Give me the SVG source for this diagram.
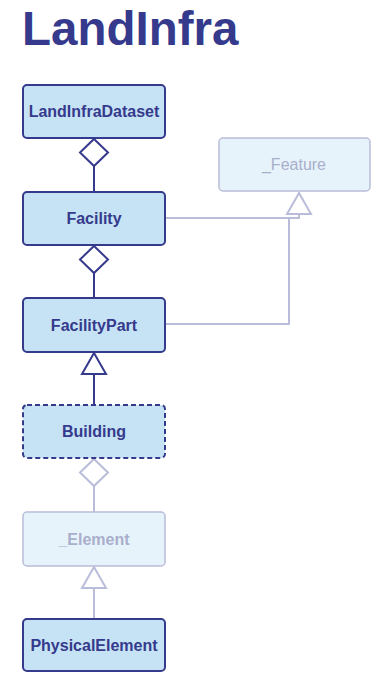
<svg xmlns="http://www.w3.org/2000/svg" width="375" height="673" viewBox="0 0 375 673">
<style>
.box{fill:#c6e3f5;stroke:#353a8c;stroke-width:2}
.lbox{fill:#e7f3fb;stroke:#b9bdd9;stroke-width:1.5}
.t{font-family:"Liberation Sans",Arial,sans-serif;font-weight:bold;font-size:16px;fill:#353a8c;text-anchor:middle}
.lt{font-family:"Liberation Sans",Arial,sans-serif;font-size:16px;fill:#a9aecb;text-anchor:middle}
.lbt{font-family:"Liberation Sans",Arial,sans-serif;font-weight:bold;font-size:16px;fill:#a9aecb;text-anchor:middle}
.dl{fill:none;stroke:#353a8c;stroke-width:2}
.ll{fill:none;stroke:#b9bdd9;stroke-width:2}
.dh{fill:#ffffff;stroke:#353a8c;stroke-width:2}
.lh{fill:#ffffff;stroke:#b9bdd9;stroke-width:2}
</style>
<rect width="375" height="673" fill="#ffffff"/>
<text x="22" y="45" font-family="Liberation Sans,Arial,sans-serif" font-weight="bold" font-size="47.5" fill="#353a8c">LandInfra</text>
<g id="connectors">
<line class="dl" x1="94" y1="166" x2="94" y2="192"/>
<polygon class="dh" points="94,139 108,152.5 94,166 80,152.5"/>
<line class="dl" x1="94" y1="273" x2="94" y2="298"/>
<polygon class="dh" points="94,246 108,259.5 94,273 80,259.5"/>
<line class="dl" x1="94" y1="374" x2="94" y2="405"/>
<polygon class="dh" points="94,353 106,374 82,374"/>
<line class="ll" x1="94" y1="486" x2="94" y2="512"/>
<polygon class="lh" points="94,459 108,472.5 94,486 80,472.5"/>
<line class="ll" x1="94" y1="588" x2="94" y2="619"/>
<polygon class="lh" points="94,567 106,588 82,588"/>
<polyline class="ll" points="165,218 299,218 299,214"/>
<polyline class="ll" points="165,324 289,324 289,218"/>
<polygon class="lh" points="299,193 311,214 287,214"/>
</g>
<g id="LandInfraDataset">
<rect class="box" x="23" y="85" width="142" height="53" rx="4"/>
<text class="t" x="94" y="117">LandInfraDataset</text>
</g>
<g id="Feature">
<rect class="lbox" x="219" y="138" width="151" height="53" rx="4"/>
<text class="lt" x="294" y="170">_Feature</text>
</g>
<g id="Facility">
<rect class="box" x="23" y="192" width="142" height="53" rx="4"/>
<text class="t" x="94" y="224">Facility</text>
</g>
<g id="FacilityPart">
<rect class="box" x="23" y="298" width="142" height="54" rx="4"/>
<text class="t" x="94" y="331">FacilityPart</text>
</g>
<g id="Building">
<rect class="box" x="23" y="405" width="142" height="53" rx="4" stroke-dasharray="5,3"/>
<text class="t" x="94" y="437">Building</text>
</g>
<g id="Element">
<rect class="lbox" x="23" y="512" width="142" height="54" rx="4"/>
<text class="lbt" x="94" y="545">_Element</text>
</g>
<g id="PhysicalElement">
<rect class="box" x="23" y="619" width="142" height="52" rx="4"/>
<text class="t" x="94" y="651">PhysicalElement</text>
</g>
</svg>
